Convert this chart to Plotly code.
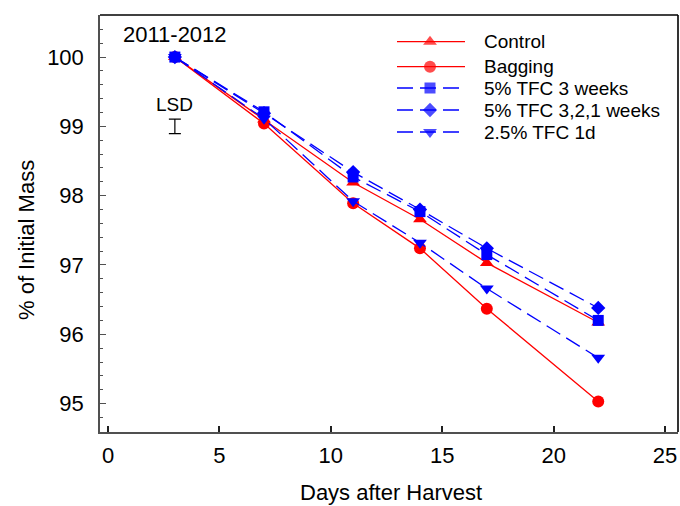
import plotly.graph_objects as go

# Storage days after harvest
days = [3, 7, 11, 14, 17, 22]

# Percent of initial fruit mass, 2011-2012 season
control = [100.0, 99.10, 98.19, 97.66, 97.03, 96.17]
bagging = [100.0, 99.04, 97.89, 97.24, 96.37, 95.03]
tfc5_3w = [100.0, 99.21, 98.27, 97.77, 97.15, 96.20]
tfc5_321w = [100.0, 99.19, 98.34, 97.80, 97.24, 96.38]
tfc25_1d = [100.0, 99.11, 97.92, 97.32, 96.66, 95.66]

series_names = ["Control", "Bagging", "5% TFC 3 weeks", "5% TFC 3,2,1 weeks", "2.5% TFC 1d"]

# Least significant difference bar
lsd_day = [3]
lsd_center = [99.0]
lsd_value = 0.21

x_ticks = [0, 5, 10, 15, 20, 25]
y_ticks = [95, 96, 97, 98, 99, 100]
season_label = "2011-2012"

FONT = "Arial, Liberation Sans, sans-serif"
RED = "#FF0000"
BLUE = "#0000FF"
DASH = "16px,7px"

styles = [
    dict(color=RED, dash="solid", symbol="triangle-up", size=12),
    dict(color=RED, dash="solid", symbol="circle", size=12),
    dict(color=BLUE, dash=DASH, symbol="square", size=11),
    dict(color=BLUE, dash=DASH, symbol="diamond", size=11),
    dict(color=BLUE, dash=DASH, symbol="triangle-down", size=12),
]
values = [control, bagging, tfc5_3w, tfc5_321w, tfc25_1d]

fig = go.Figure()

for name, vals, st in zip(series_names, values, styles):
    fig.add_trace(go.Scatter(
        x=days, y=vals, name=name, mode="lines+markers",
        line=dict(color=st["color"], width=1.3, dash=st["dash"]),
        marker=dict(symbol=st["symbol"], size=st["size"], color=st["color"],
                    line=dict(width=0)),
        showlegend=False, cliponaxis=False,
    ))

# LSD error bar
fig.add_trace(go.Scatter(
    x=lsd_day, y=lsd_center, mode="markers",
    marker=dict(size=0.1, color="rgba(0,0,0,0)"),
    error_y=dict(type="constant", value=lsd_value / 2, color="black",
                 thickness=1.2, width=6),
    showlegend=False,
))

# Legend drawn on a pixel-scaled overlay axis pair (x: 100..678, y: 432..15)
leg_rows = [41.7, 66.7, 88.0, 110.0, 132.0]
leg_line_end = [465, 465, 459, 459, 459]
for name, st, ry, xe in zip(series_names, styles, leg_rows, leg_line_end):
    fig.add_trace(go.Scatter(
        x=[397, 430, xe], y=[ry, ry, ry], xaxis="x2", yaxis="y2",
        mode="lines+markers",
        line=dict(color=st["color"], width=1.3, dash=st["dash"]),
        marker=dict(symbol=st["symbol"], size=[0, st["size"], 0],
                    color=st["color"], line=dict(width=0)),
        showlegend=False, hoverinfo="skip", cliponaxis=False,
    ))

annotations = []
for name, ry in zip(series_names, leg_rows):
    annotations.append(dict(
        x=481.5, y=ry, xref="x2", yref="y2", text=name, showarrow=False,
        xanchor="left", yanchor="middle", font=dict(family=FONT, size=19, color="black"),
    ))

annotations += [
    dict(x=3, y=100.32, xref="x", yref="y", text=season_label, showarrow=False,
         xanchor="center", yanchor="middle", font=dict(family=FONT, size=22, color="black")),
    dict(x=3, y=99.32, xref="x", yref="y", text="LSD", showarrow=False,
         xanchor="center", yanchor="middle", font=dict(family=FONT, size=19, color="black")),
    dict(x=0.5026, y=-0.144, xref="paper", yref="paper", text="Days after Harvest",
         showarrow=False, xanchor="center", yanchor="middle",
         font=dict(family=FONT, size=22, color="black")),
    dict(x=-0.128, y=0.4604, xref="paper", yref="paper", text="% of Initial Mass",
         showarrow=False, textangle=-90, xanchor="center", yanchor="middle",
         font=dict(family=FONT, size=22, color="black")),
]

AXIS_GRAY = "#505050"

fig.update_layout(
    width=680, height=506,
    margin=dict(l=100, r=2, t=15, b=74),
    paper_bgcolor="white", plot_bgcolor="white",
    font=dict(family=FONT, color="black"),
    showlegend=False,
    xaxis=dict(
        range=[-0.36, 25.58], tickvals=x_ticks, ticks="inside", ticklen=6,
        tickwidth=1.5, tickcolor="#202020", showline=True, linecolor=AXIS_GRAY,
        linewidth=2, showgrid=False, zeroline=False,
        tickfont=dict(family=FONT, size=22, color="black"), ticklabelstandoff=3,
    ),
    yaxis=dict(
        range=[94.59, 100.607], tickvals=y_ticks, ticks="inside", ticklen=6,
        tickwidth=1.3, tickcolor=AXIS_GRAY, showline=True, linecolor=AXIS_GRAY,
        linewidth=1.5, showgrid=False, zeroline=False,
        minor=dict(ticks="inside", dtick=0.2, tick0=95, ticklen=3, tickwidth=1,
                   tickcolor=AXIS_GRAY, showgrid=False),
        tickfont=dict(family=FONT, size=22, color="black"), ticklabelstandoff=10,
    ),
    xaxis2=dict(range=[100, 678], overlaying="x", visible=False, fixedrange=True),
    yaxis2=dict(range=[432, 15], overlaying="y", visible=False, fixedrange=True),
    annotations=annotations,
    shapes=[
        dict(type="line", xref="paper", yref="paper", x0=0, x1=1, y0=1, y1=1,
             line=dict(color="black", width=1.6)),
        dict(type="line", xref="paper", yref="paper", x0=1, x1=1, y0=0, y1=1,
             line=dict(color="black", width=1.6)),
    ],
)

fig.write_html("out.html")
